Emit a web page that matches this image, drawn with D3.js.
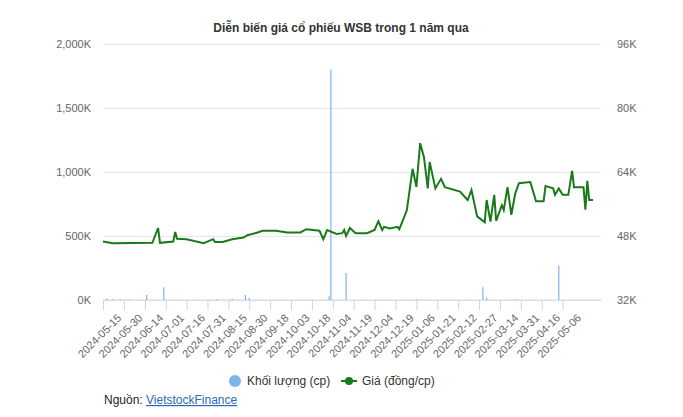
<!DOCTYPE html>
<html><head><meta charset="utf-8">
<script src="https://cdn.jsdelivr.net/npm/d3@7"></script>
<style>body{margin:0;background:#fff;font-family:Arial,"Liberation Sans",sans-serif}</style>
</head><body><svg id="c" width="683" height="417"></svg>
<script>
// trading-day index -> value
var tickLabels = ["2024-05-15","2024-05-30","2024-06-14","2024-07-01","2024-07-16","2024-07-31","2024-08-15","2024-08-30","2024-09-18","2024-10-03","2024-10-18","2024-11-04","2024-11-19","2024-12-04","2024-12-19","2025-01-06","2025-01-21","2025-02-12","2025-02-27","2025-03-14","2025-03-31","2025-04-16","2025-05-06"];
var priceDay = [0,5,26,29,30,37,38,39,44,53,58,59,63,68,74,76,81,84,91,97,104,107,114,116,118,123,126,127,128,130,133,139,143,145,147,148,151,155,156,158,160,163,165,167,169,171,172,175,178,180,188,192,194,197,201,202,204,206,207,210,211,213,215,217,219,225,228,232,233,237,238,240,242,245,247,248,253,254,255,256,258];
var price = [46.6,46.2,46.3,50,46.3,46.6,49,47.3,47.2,46.2,47.2,46.5,46.5,47.2,47.6,48.2,48.8,49.3,49.3,48.9,48.9,49.7,49.3,47.2,49.5,48.5,48.7,49.5,48,50,48.7,48.7,49.5,51.7,49.5,50.3,49.9,50.3,49.7,52,54.5,64.8,60.3,71.2,67.7,59.9,66.5,59.9,62.3,60.2,59.1,57,59.5,52.9,51.4,57,51.6,58.3,51.8,55.7,54.5,60.2,53.3,58.5,61.2,61.5,56.7,56.7,60.5,59.9,58.3,59.9,58.3,58.3,64.3,60.2,60.2,54.6,61.8,57,57];
var volDay = [2,5,9,14,23,32,60,68,75,77,119,120,128,165,200,202,218,240];
var vol = [12,8,6,5,40,100,8,10,40,15,30,1800,210,6,100,20,5,270];

var svg = d3.select("#c");
var L = 103, R = 593, T = 44, B = 300;
var x = d3.scaleLinear().domain([0, 258]).range([L, R]);
var yV = d3.scaleLinear().domain([0, 2000]).range([B, T]);
var yP = d3.scaleLinear().domain([32, 96]).range([B, T]);

svg.append("text").attr("x", 341).attr("y", 32).attr("text-anchor", "middle")
  .attr("font-size", 12).attr("font-weight", "bold").attr("fill", "#333")
  .text("Diễn biến giá cổ phiếu WSB trong 1 năm qua");

var gy = svg.append("g").attr("transform", "translate(" + L + ",0)")
  .call(d3.axisLeft(yV).tickValues([0,500,1000,1500,2000]).tickSize(-(R - L + 8))
    .tickFormat(function(d){ return d3.format(",")(d) + "K"; }));
gy.select(".domain").remove();
gy.selectAll("line").attr("stroke", "#e6e6e6");
gy.selectAll("text").attr("x", -12).attr("fill", "#666").attr("font-size", 11);

var gr = svg.append("g").attr("transform", "translate(" + (R + 10) + ",0)")
  .call(d3.axisRight(yP).tickValues([32,48,64,80,96]).tickSize(0)
    .tickFormat(function(d){ return d + "K"; }));
gr.select(".domain").remove();
gr.selectAll("text").attr("x", 14).attr("fill", "#666").attr("font-size", 11);

var ticks = tickLabels.map(function(d, i){ return i * 11; });
var gx = svg.append("g").attr("transform", "translate(0," + B + ")")
  .call(d3.axisBottom(x).tickValues(ticks).tickSize(10)
    .tickFormat(function(d){ return tickLabels[d / 11]; }));
gx.select(".domain").attr("stroke", "#ccd6eb").attr("d", "M" + L + ",0H" + (R + 8));
gx.selectAll("line").attr("stroke", "#ccd6eb");
gx.selectAll("text").attr("fill", "#666").attr("font-size", 11)
  .attr("text-anchor", "end").attr("transform", "translate(4,4) rotate(-45)");

svg.append("g").selectAll("line").data(volDay).enter().append("line")
  .attr("x1", function(d){ return x(d); }).attr("x2", function(d){ return x(d); })
  .attr("y1", B).attr("y2", function(d, i){ return yV(vol[i]); })
  .attr("stroke", "#7cb5ec").attr("stroke-width", 1.2);

var line = d3.line().x(function(d){ return x(d); }).y(function(d, i){ return yP(price[i]); });
svg.append("path").datum(priceDay).attr("d", line).attr("fill", "none")
  .attr("stroke", "#1a7a1a").attr("stroke-width", 2);

var lg = svg.append("g").attr("font-size", 12).attr("fill", "#333");
lg.append("circle").attr("cx", 235).attr("cy", 381).attr("r", 6).attr("fill", "#7cb5ec");
lg.append("text").attr("x", 247).attr("y", 385).text("Khối lượng (cp)");
lg.append("line").attr("x1", 341).attr("x2", 357).attr("y1", 381).attr("y2", 381).attr("stroke", "#1a7a1a").attr("stroke-width", 2);
lg.append("circle").attr("cx", 349).attr("cy", 381).attr("r", 4).attr("fill", "#1a7a1a");
lg.append("text").attr("x", 362).attr("y", 385).text("Giá (đồng/cp)");

var src = svg.append("text").attr("x", 104).attr("y", 404).attr("font-size", 12).attr("fill", "#222");
src.append("tspan").text("Nguồn: ");
src.append("tspan").attr("fill", "#2a6bb5").attr("text-decoration", "underline").text("VietstockFinance");
</script></body></html>
